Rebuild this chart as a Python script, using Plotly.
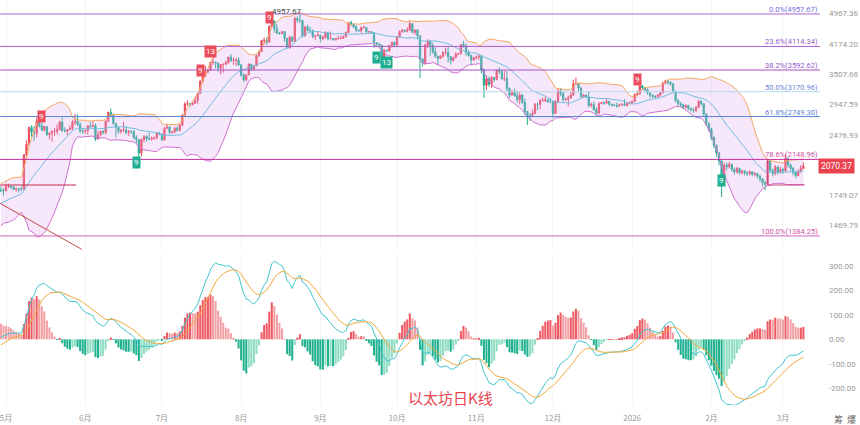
import numpy as np
import pandas as pd
import plotly.graph_objects as go

# ---------------- data (ETH daily) ----------------
first_open = 1800
# warm-up closes (2025-03-01 .. 2025-04-28) only used for indicators
warm_close = [2217, 2518, 2153, 2170, 2240, 2200, 2140, 2203, 2020, 1865, 1920, 1910, 1865, 1910, 1935, 1890,
              1925, 1930, 2055, 1985, 1965, 1980, 2005, 2080, 2065, 2010, 2005, 1895, 1830, 1805, 1822,
              1905, 1795, 1815, 1815, 1805, 1580, 1555, 1475, 1670, 1520, 1570, 1645, 1595, 1625, 1590,
              1575, 1585, 1590, 1615, 1585, 1580, 1755, 1795, 1770, 1785, 1820, 1795, 1800]

c_2504 = [1798, 1793]
h_2504 = [1840, 1825]
l_2504 = [1780, 1745]

c_2505 = [1838, 1842, 1834, 1808, 1815, 1812, 1810, 2205, 2345, 2583, 2514, 2493, 2680, 2608, 2545, 2595, 2478,
          2500, 2525, 2525, 2550, 2665, 2530, 2530, 2550, 2565, 2660, 2680, 2632, 2530, 2528]
h_2505 = [1870, 1868, 1850, 1845, 1830, 1825, 1840, 2215, 2400, 2595, 2615, 2605, 2735, 2725, 2650, 2610, 2600,
          2510, 2545, 2580, 2630, 2685, 2735, 2585, 2560, 2610, 2700, 2790, 2788, 2660, 2560]
l_2505 = [1790, 1822, 1815, 1800, 1785, 1775, 1790, 1808, 2155, 2330, 2450, 2390, 2440, 2580, 2525, 2525, 2460,
          2410, 2380, 2460, 2480, 2540, 2520, 2510, 2470, 2540, 2545, 2620, 2600, 2500, 2490]

c_2506 = [2540, 2605, 2595, 2610, 2415, 2480, 2525, 2510, 2680, 2815, 2770, 2645, 2580, 2525, 2545, 2545, 2510,
          2525, 2520, 2440, 2405, 2230, 2410, 2450, 2420, 2415, 2425, 2435, 2500, 2485]
h_2506 = [2550, 2620, 2660, 2680, 2640, 2530, 2535, 2545, 2690, 2830, 2880, 2800, 2620, 2590, 2560, 2670, 2610,
          2545, 2540, 2545, 2470, 2410, 2425, 2470, 2470, 2510, 2455, 2450, 2510, 2520]
l_2506 = [2490, 2480, 2580, 2590, 2390, 2410, 2450, 2480, 2480, 2660, 2740, 2620, 2440, 2490, 2490, 2510, 2480,
          2460, 2490, 2410, 2360, 2115, 2185, 2370, 2380, 2400, 2390, 2410, 2410, 2470]

c_2507 = [2405, 2570, 2590, 2510, 2515, 2570, 2540, 2615, 2770, 2955, 2960, 2945, 2970, 3015, 3140, 3370, 3475,
          3550, 3590, 3755, 3760, 3740, 3625, 3710, 3715, 3745, 3870, 3795, 3800, 3805, 3700]
h_2507 = [2490, 2590, 2640, 2595, 2530, 2590, 2600, 2630, 2790, 2990, 3020, 2970, 2990, 3080, 3150, 3390, 3490,
          3680, 3600, 3760, 3860, 3770, 3740, 3720, 3725, 3790, 3880, 3940, 3865, 3850, 3870]
l_2507 = [2390, 2390, 2560, 2480, 2490, 2500, 2520, 2525, 2600, 2760, 2920, 2910, 2930, 2955, 2960, 3140, 3330,
          3450, 3530, 3580, 3700, 3630, 3560, 3500, 3540, 3700, 3730, 3760, 3700, 3680, 3680]

c_2508 = [3485, 3395, 3495, 3715, 3615, 3680, 3905, 3990, 4255, 4265, 4220, 4620, 4760, 4550, 4440, 4430, 4480,
          4310, 4080, 4340, 4240, 4830, 4780, 4780, 4370, 4600, 4510, 4510, 4360, 4370, 4390]
h_2508 = [3720, 3530, 3510, 3735, 3720, 3690, 3920, 4030, 4275, 4330, 4330, 4640, 4790, 4785, 4690, 4470, 4500,
          4480, 4320, 4370, 4360, 4880, 4890, 4957.67, 4790, 4630, 4660, 4610, 4530, 4390, 4490]
l_2508 = [3460, 3355, 3370, 3490, 3580, 3590, 3670, 3870, 3990, 4165, 4150, 4200, 4600, 4450, 4420, 4400, 4430,
          4220, 4070, 4060, 4210, 4230, 4720, 4710, 4330, 4350, 4480, 4450, 4310, 4270, 4370]

c_2509 = [4300, 4330, 4450, 4300, 4305, 4270, 4300, 4310, 4310, 4350, 4460, 4715, 4670, 4600, 4520, 4500, 4590,
          4590, 4470, 4480, 4450, 4200, 4170, 4150, 3870, 4030, 4010, 4140, 4210, 4145]
h_2509 = [4400, 4380, 4490, 4480, 4480, 4320, 4320, 4380, 4380, 4380, 4480, 4730, 4770, 4700, 4650, 4530, 4600,
          4640, 4600, 4500, 4490, 4460, 4220, 4200, 4150, 4050, 4030, 4150, 4230, 4240]
l_2509 = [4210, 4260, 4300, 4260, 4280, 4260, 4260, 4280, 4290, 4300, 4340, 4450, 4630, 4570, 4460, 4480, 4440,
          4560, 4450, 4460, 4440, 4080, 4140, 4100, 3820, 3830, 3990, 3980, 4080, 4110]

c_2510 = [4350, 4480, 4515, 4490, 4515, 4690, 4460, 4525, 4370, 3830, 3750, 4150, 4240, 4130, 3990, 3890, 3840,
          3890, 3980, 3980, 3880, 3800, 3860, 3935, 3945, 4160, 4120, 3980, 3905, 3805, 3850]
h_2510 = [4360, 4520, 4550, 4530, 4590, 4755, 4700, 4530, 4520, 4390, 3850, 4180, 4290, 4260, 4200, 4090, 3900,
          3910, 4000, 4090, 4120, 3890, 3880, 3980, 3960, 4170, 4250, 4190, 4030, 3920, 3880]
l_2510 = [4140, 4330, 4450, 4460, 4460, 4500, 4440, 4400, 4280, 3435, 3670, 3700, 4080, 3900, 3940, 3850, 3690,
          3830, 3860, 3910, 3750, 3710, 3770, 3840, 3910, 3930, 4080, 3900, 3880, 3700, 3790]

c_2511 = [3870, 3890, 3600, 3290, 3420, 3310, 3440, 3400, 3580, 3560, 3415, 3420, 3230, 3110, 3160, 3100, 3030,
          3110, 2980, 2830, 2770, 2770, 2800, 2955, 2950, 3020, 3020, 3030, 2990, 2990]
h_2511 = [3900, 3930, 3910, 3620, 3480, 3460, 3470, 3450, 3600, 3650, 3600, 3580, 3570, 3250, 3200, 3230, 3190,
          3160, 3130, 3050, 2840, 2800, 2860, 2970, 2980, 3040, 3070, 3080, 3040, 3060]
l_2511 = [3820, 3810, 3520, 3060, 3200, 3260, 3240, 3360, 3390, 3510, 3400, 3370, 3170, 3060, 3120, 3080, 2980,
          2950, 2960, 2780, 2620, 2680, 2750, 2790, 2850, 2870, 2990, 2990, 2980, 2970]

c_2512 = [2800, 3000, 3190, 3135, 3030, 3040, 3060, 3115, 3320, 3320, 3240, 3085, 3110, 3080, 2930, 2950, 2860,
          2800, 2960, 2980, 2970, 3000, 2950, 2940, 2930, 2920, 2940, 2950, 2930, 2970, 2970]
h_2512 = [3000, 3020, 3220, 3240, 3170, 3060, 3100, 3170, 3400, 3440, 3330, 3250, 3130, 3120, 3180, 2980, 3000,
          2900, 2990, 2990, 3000, 3050, 3010, 2960, 2960, 2980, 2960, 2970, 3040, 2990, 3000]
l_2512 = [2720, 2790, 2990, 3090, 2990, 3010, 2920, 3050, 3100, 3300, 3160, 3060, 3080, 3060, 2890, 2900, 2840,
          2770, 2790, 2960, 2940, 2960, 2920, 2910, 2920, 2890, 2920, 2930, 2920, 2910, 2950]

c_2601 = [3000, 3120, 3130, 3280, 3240, 3210, 3150, 3100, 3090, 3080, 3110, 3150, 3330, 3370, 3350, 3320, 3180,
          3010, 2960, 2940, 2900, 2930, 2880, 2860, 2850, 2900, 3000, 2960, 2790, 2640, 2560]
h_2601 = [3010, 3140, 3190, 3300, 3300, 3260, 3230, 3160, 3130, 3110, 3130, 3170, 3360, 3400, 3390, 3360, 3330,
          3190, 3040, 2990, 2960, 2950, 2940, 2900, 2890, 2920, 3030, 3020, 2970, 2800, 2660]
l_2601 = [2960, 2990, 3090, 3120, 3200, 3180, 3120, 3060, 3060, 3050, 3070, 3080, 3140, 3310, 3300, 3280, 3150,
          2980, 2920, 2900, 2870, 2880, 2850, 2830, 2810, 2820, 2890, 2930, 2760, 2600, 2520]

c_2602 = [2440, 2330, 2230, 2130, 1880, 2080, 2060, 2090, 2030, 2000, 2040, 1990, 2010, 1990, 1980, 2000, 1970,
          1980, 1950, 1920, 1880, 1860, 2130, 2020, 1980, 2060, 2000, 2030]
h_2602 = [2580, 2450, 2340, 2240, 2140, 2110, 2110, 2120, 2100, 2050, 2060, 2050, 2030, 2020, 2010, 2020, 2010,
          2000, 1990, 1970, 1930, 1900, 2150, 2140, 2040, 2080, 2070, 2060]
l_2602 = [2400, 2290, 2180, 2080, 1730, 1860, 2020, 2040, 2000, 1970, 1980, 1970, 1970, 1960, 1950, 1960, 1950,
          1950, 1930, 1890, 1840, 1800, 1850, 1990, 1950, 1960, 1970, 1980]

c_2603 = [2010, 2160, 2080, 2040, 1990, 1960, 2010, 2040, 2070.37]
h_2603 = [2050, 2210, 2170, 2100, 2060, 2000, 2030, 2080, 2110]
l_2603 = [1980, 2000, 2050, 2010, 1960, 1930, 1950, 1990, 2030]

month_ticks = ["2025-05-01", "2025-06-01", "2025-07-01", "2025-08-01", "2025-09-01", "2025-10-01",
               "2025-11-01", "2025-12-01", "2026-01-01", "2026-02-01", "2026-03-01"]
month_labels = ["5月", "6月", "7月", "8月", "9月", "10月", "11月", "12月", "2026", "2月", "3月"]

price_ticks = [1469.79, 1749.07, 2476.93, 2947.59, 3507.68, 4174.20, 4967.36]
macd_ticks = [-200, -100, 0, 100, 200, 300]

fib_ratio = ["0.0%", "23.6%", "38.2%", "50.0%", "61.8%", "78.6%", "100.0%"]
fib_value = [4957.67, 4114.34, 3592.62, 3170.96, 2749.30, 2148.96, 1384.25]

td_dates = ["2025-05-15", "2025-06-21", "2025-07-16", "2025-07-20", "2025-08-12", "2025-09-23",
            "2025-09-27", "2026-01-03", "2026-02-05"]
td_price = [2758, 2115, 3593, 4005, 4845, 3870, 3750, 3410, 1900]
td_text = ["9", "9", "9", "13", "9", "9", "13", "9", "9"]
td_up = [True, False, True, True, True, False, False, True, False]

last_price = 2070.37
ath_price = 4957.67

# ---------------- assemble ----------------
close = (c_2504 + c_2505 + c_2506 + c_2507 + c_2508 + c_2509 + c_2510 + c_2511 + c_2512 +
         c_2601 + c_2602 + c_2603)
high = (h_2504 + h_2505 + h_2506 + h_2507 + h_2508 + h_2509 + h_2510 + h_2511 + h_2512 +
        h_2601 + h_2602 + h_2603)
low = (l_2504 + l_2505 + l_2506 + l_2507 + l_2508 + l_2509 + l_2510 + l_2511 + l_2512 +
       l_2601 + l_2602 + l_2603)
n = len(close)
dates = pd.date_range("2025-04-29", periods=n, freq="D")
opens = [first_open] + close[:-1]
high = [max(h, o, c) for h, o, c in zip(high, opens, close)]
low = [min(l, o, c) for l, o, c in zip(low, opens, close)]

s = pd.Series(warm_close + close, dtype=float)
mid = s.rolling(20).mean()
sd = s.rolling(20).std(ddof=0)
bb_up = (mid + 2 * sd).iloc[-n:].values
bb_lo = (mid - 2 * sd).iloc[-n:].values
bb_mid = mid.iloc[-n:].values
ema12 = s.ewm(span=12, adjust=False).mean()
ema26 = s.ewm(span=26, adjust=False).mean()
dif_all = ema12 - ema26
dea_all = dif_all.ewm(span=9, adjust=False).mean()
hist_all = 2 * (dif_all - dea_all)
dif = dif_all.iloc[-n:].values
dea = dea_all.iloc[-n:].values
hist = hist_all.iloc[-n:].values
hist_prev = hist_all.shift(1).iloc[-n:].values
hcol = []
for h, p in zip(hist, hist_prev):
    if h >= 0:
        hcol.append("#ee5a64" if h >= p else "#f3a0a5")
    else:
        hcol.append("#22b18f" if h <= p else "#8fdcc3")

x_left = pd.Timestamp("2025-04-28 15:36")
x_right = pd.Timestamp("2026-03-15 12:00")

RED = "#eb4d5c"
GREEN = "#1fae91"
FONT = "Roboto, Noto Sans CJK SC, sans-serif"

fig = go.Figure()
# Bollinger
fig.add_trace(go.Scatter(x=dates, y=bb_up, mode="lines", line=dict(color="#f4a860", width=1),
                         hoverinfo="skip", showlegend=False))
fig.add_trace(go.Scatter(x=dates, y=bb_lo, mode="lines", line=dict(color="#cf72cf", width=1),
                         fill="tonexty", fillcolor="rgba(222,165,240,0.27)", hoverinfo="skip", showlegend=False))
fig.add_trace(go.Scatter(x=dates, y=bb_mid, mode="lines", line=dict(color="#72bfe0", width=1),
                         hoverinfo="skip", showlegend=False))

# Fibonacci lines
fib_line_col = ["#b266d8", "#b05ccc", "#a94fc6", "#b3d8ef", "#5584d4", "#c8309a", "#d463bb"]
fib_text_col = ["#7a6ed8", "#9358cc", "#9358cc", "#6b84d6", "#5a82d2", "#d0509f", "#d0509f"]
for v, lc in zip(fib_value, fib_line_col):
    fig.add_trace(go.Scatter(x=[x_left, x_right], y=[v, v], mode="lines", line=dict(color=lc, width=1),
                             hoverinfo="skip", showlegend=False))

# user drawings
fig.add_trace(go.Scatter(x=[x_left, pd.Timestamp("2025-05-28 10:00")], y=[1855, 1855], mode="lines",
                         line=dict(color="#c42a4c", width=1), hoverinfo="skip", showlegend=False))
fig.add_trace(go.Scatter(x=[x_left, pd.Timestamp("2025-05-30 14:00")], y=[1670, 1282], mode="lines",
                         line=dict(color="#c24a4a", width=1), hoverinfo="skip", showlegend=False))
fig.add_trace(go.Scatter(x=[pd.Timestamp("2026-02-23"), pd.Timestamp("2026-02-23"), pd.Timestamp("2026-03-09 14:00")],
                         y=[2149, 1855, 1855], mode="lines", line=dict(color="#c8407e", width=1),
                         hoverinfo="skip", showlegend=False))

# candles
fig.add_trace(go.Candlestick(x=dates, open=opens, high=high, low=low, close=close,
                             increasing=dict(line=dict(color=RED, width=1), fillcolor=RED),
                             decreasing=dict(line=dict(color=GREEN, width=1), fillcolor=GREEN),
                             whiskerwidth=0, showlegend=False, hoverinfo="skip"))

# MACD
fig.add_trace(go.Bar(x=dates, y=hist, marker=dict(color=hcol, line=dict(width=0)), yaxis="y2",
                     showlegend=False, hoverinfo="skip"))
fig.add_trace(go.Scatter(x=dates, y=dif, mode="lines", line=dict(color="#3ec6cf", width=1), yaxis="y2",
                         showlegend=False, hoverinfo="skip"))
fig.add_trace(go.Scatter(x=dates, y=dea, mode="lines", line=dict(color="#f3a93a", width=1), yaxis="y2",
                         showlegend=False, hoverinfo="skip"))

ann = []
for r, v, tc in zip(fib_ratio, fib_value, fib_text_col):
    ann.append(dict(x=0.999, xref="paper", y=np.log10(v), yref="y", xanchor="right", yanchor="bottom",
                    text=f"{r}({v:.2f})", showarrow=False, font=dict(size=7.5, color=tc, family=FONT),
                    borderpad=0, yshift=-1))
for d, p, t, up in zip(td_dates, td_price, td_text, td_up):
    ann.append(dict(x=d, y=np.log10(p), xref="x", yref="y", text=t, showarrow=False,
                    font=dict(size=8, color="white", family=FONT), bgcolor=RED if up else GREEN,
                    borderpad=1))
ann.append(dict(x="2025-08-19", y=np.log10(ath_price), xref="x", yref="y", text=f"{ath_price:.2f}",
                showarrow=False, font=dict(size=8, color="#444", family=FONT), yshift=2))
ann.append(dict(x=818 / 820, xref="paper", y=np.log10(last_price), yref="y", xanchor="left",
                text=f"{last_price:.2f}", showarrow=False, bgcolor="#e8434f",
                font=dict(size=8.5, color="white", family=FONT), borderpad=2))
ann.append(dict(x=450 / 820, xref="paper", y=0, yref="paper", yanchor="bottom", yshift=-5,
                text="以太坊日K线", showarrow=False,
                font=dict(size=15, color="#e8434f", family="Noto Sans CJK SC")))
ann.append(dict(x=858 / 820, xref="paper", y=0, yref="paper", xanchor="right", yanchor="top", yshift=-6,
                text="筹  爆", showarrow=False, font=dict(size=9, color="#666", family="Noto Sans CJK SC")))

fig.update_layout(
    width=860, height=425, margin=dict(l=0, r=40, t=0, b=20),
    paper_bgcolor="white", plot_bgcolor="white", showlegend=False, bargap=0.2,
    font=dict(family=FONT, size=8, color="#999"),
    xaxis=dict(type="date", range=[x_left, x_right], anchor="y2", domain=[0, 1],
               tickvals=month_ticks, ticktext=month_labels, showgrid=True, gridcolor="#f4f4f4",
               zeroline=False, showline=False, ticks="", rangeslider=dict(visible=False),
               ticklabeloverflow="allow", ticklabelstandoff=7,
               tickfont=dict(size=8, color="#999", family="Noto Sans CJK SC")),
    yaxis=dict(type="log", range=[3.1061, 3.7302], domain=[1 - 250 / 405, 1], side="right", anchor="x",
               tickvals=price_ticks, ticktext=[f"{v:.2f}" for v in price_ticks], showgrid=False,
               zeroline=False, showline=False, ticks="", ticklabelstandoff=8,
               tickfont=dict(size=8, color="#999")),
    yaxis2=dict(range=[-268.7, 344.8], domain=[0, 150 / 405], side="right", anchor="x",
                tickvals=macd_ticks, ticktext=[f"{v:.2f}" for v in macd_ticks], showgrid=False,
                zeroline=False, showline=False, ticks="", ticklabelstandoff=8,
                tickfont=dict(size=8, color="#999")),
    annotations=ann,
)

fig.write_html("out.html")
